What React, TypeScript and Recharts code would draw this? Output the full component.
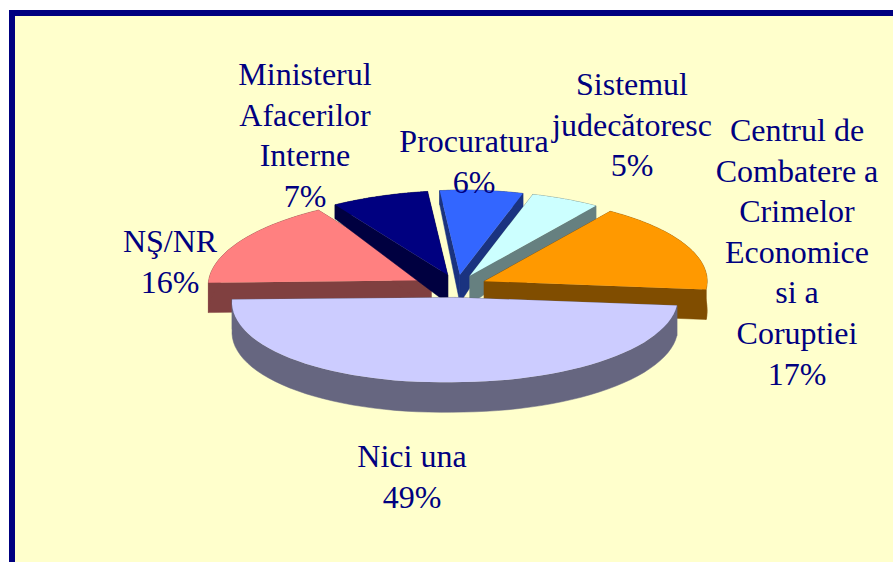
import { Pie, PieChart } from 'recharts';

const categories = [
  'NŞ/NR',
  'Ministerul Afacerilor Interne',
  'Procuratura',
  'Sistemul judecătoresc',
  'Centrul de Combatere a Crimelor Economice si a Coruptiei',
  'Nici una',
];
const values = [16, 7, 6, 5, 17, 49];
const topColors = ['#FF8080', '#000080', '#3366FF', '#CCFFFF', '#FF9900', '#CCCCFF'];
const wallColors = ['#804040', '#000040', '#1A3380', '#668080', '#804D00', '#666680'];
const labelLines = [
  ['NŞ/NR'],
  ['Ministerul', 'Afacerilor', 'Interne'],
  ['Procuratura'],
  ['Sistemul', 'judecătoresc'],
  ['Centrul de', 'Combatere a', 'Crimelor', 'Economice', 'si a', 'Coruptiei'],
  ['Nici una'],
];

// where each label block sits: centre x, first baseline
const labelX = [170, 305, 474, 632, 797, 412];
const labelY = [252, 85, 152, 95, 141, 467];
const lineHeight = 40.6;

const data = categories.map((name, i) => ({ name, value: values[i], fill: topColors[i] }));

const RAD = Math.PI / 180;
const SQUASH = 0.38; // pie seen from the side
const EXPLODE = 30;
const LEFT_DROOP = 0.022; // left half of the pie hangs a little lower

// wall height shrinks towards the back of the pie
const wallDepth = (y: number) => Math.min(30, Math.max(14, 14 + ((y - 205) * 16) / 78));

const toPath = (pts: number[][]) =>
  pts.map((p, i) => `${i ? 'L' : 'M'}${p[0].toFixed(1)},${p[1].toFixed(1)}`).join(' ') + ' Z';
const drop = (p: number[]) => [p[0], p[1] + wallDepth(p[1])];

const Slice3D = (props: any) => {
  const { cx, cy, outerRadius, startAngle, endAngle, midAngle, index } = props;
  const ax = cx + EXPLODE * Math.cos(midAngle * RAD);
  const ay = cy - EXPLODE * SQUASH * Math.sin(midAngle * RAD);
  const arc: number[][] = [];
  const steps = 60;
  for (let s = 0; s <= steps; s++) {
    const a = (startAngle + ((endAngle - startAngle) * s) / steps) * RAD;
    const x = ax + outerRadius * Math.cos(a);
    const y = ay - outerRadius * SQUASH * Math.sin(a);
    arc.push([x, y + Math.max(0, cx - x) * LEFT_DROOP]);
  }
  const apex = [ax, ay];
  const wall = wallColors[index];
  const first = arc[0];
  const last = arc[arc.length - 1];
  return (
    <g>
      <path d={toPath([apex, first, drop(first), drop(apex)])} fill={wall} stroke={wall} strokeWidth={0.5} />
      <path d={toPath([apex, last, drop(last), drop(apex)])} fill={wall} stroke={wall} strokeWidth={0.5} />
      <path d={toPath([...arc, ...arc.map(drop).reverse()])} fill={wall} stroke={wall} strokeWidth={0.5} />
      <path d={toPath([apex, ...arc])} fill={topColors[index]} />
    </g>
  );
};

const SliceLabel = (props: any) => {
  const { index, value } = props;
  const lines = [...labelLines[index], `${value}%`];
  return (
    <text
      x={labelX[index]}
      y={labelY[index]}
      textAnchor="middle"
      fontFamily="'Liberation Serif', serif"
      fontSize={32}
      fill="#000080"
    >
      {lines.map((line, i) => (
        <tspan key={i} x={labelX[index]} y={labelY[index] + i * lineHeight}>
          {line}
        </tspan>
      ))}
    </text>
  );
};

export default function App() {
  return (
    <div style={{ position: 'absolute', left: 0, top: 0, width: 893, height: 562, overflow: 'hidden', background: '#fff' }}>
      <div
        style={{
          position: 'absolute',
          left: 9,
          top: 10,
          width: 900,
          height: 600,
          border: '6px solid #000080',
          background: '#FFFFCC',
        }}
      />
      <div style={{ position: 'absolute', left: 0, top: 0 }}>
        <PieChart width={893} height={562} margin={{ top: 0, right: 0, bottom: 0, left: 0 }}>
          <Pie
            data={data}
            dataKey="value"
            nameKey="name"
            cx={457}
            cy={286}
            innerRadius={0}
            outerRadius={223}
            startAngle={-182}
            endAngle={-542}
            stroke="none"
            shape={Slice3D}
            label={SliceLabel}
            labelLine={false}
            isAnimationActive={false}
          />
        </PieChart>
      </div>
    </div>
  );
}
